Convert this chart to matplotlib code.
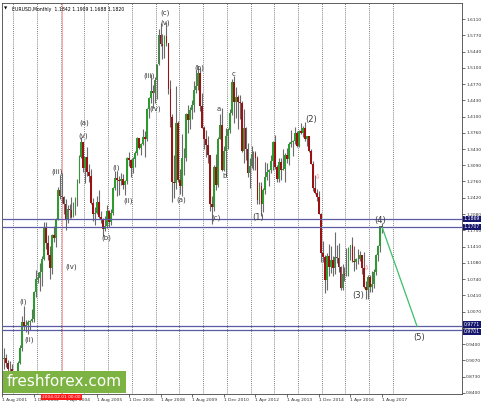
import numpy as np
import matplotlib.pyplot as plt
from matplotlib.patches import Rectangle
from matplotlib.transforms import blended_transform_factory

# EURUSD monthly candles, Sep 2001 .. Aug 2017
opens = [0.9110, 0.9125, 0.9020, 0.8900,
         0.8895, 0.8610, 0.8690, 0.8720, 0.9020, 0.9330, 0.9870, 0.9780, 0.9800, 0.9860, 0.9880, 0.9930,
         1.0490, 1.0740, 1.0780, 1.0900, 1.1160, 1.1800, 1.1500, 1.1240, 1.0980, 1.1650, 1.1590, 1.1990,
         1.2590, 1.2460, 1.2450, 1.2300, 1.1960, 1.2200, 1.2170, 1.2020, 1.2170, 1.2430, 1.2750, 1.3270,
         1.3570, 1.3040, 1.3260, 1.2960, 1.2870, 1.2310, 1.2100, 1.2120, 1.2340, 1.2020, 1.1990, 1.1790,
         1.1840, 1.2160, 1.1920, 1.2110, 1.2620, 1.2830, 1.2790, 1.2770, 1.2810, 1.2680, 1.2760, 1.3250,
         1.3200, 1.3030, 1.3230, 1.3350, 1.3650, 1.3450, 1.3540, 1.3680, 1.3640, 1.4260, 1.4480, 1.4630,
         1.4590, 1.4860, 1.5180, 1.5790, 1.5600, 1.5550, 1.5750, 1.5610, 1.4670, 1.4080, 1.2740, 1.2730,
         1.3970, 1.2800, 1.2670, 1.3250, 1.3250, 1.4150, 1.4030, 1.4240, 1.4340, 1.4640, 1.4720, 1.5000,
         1.4320, 1.3870, 1.3630, 1.3510, 1.3300, 1.2300, 1.2230, 1.3050, 1.2680, 1.3630, 1.3930, 1.3000,
         1.3380, 1.3690, 1.3820, 1.4170, 1.4810, 1.4390, 1.4500, 1.4390, 1.4380, 1.3390, 1.3870, 1.3440,
         1.2940, 1.3080, 1.3330, 1.3340, 1.3240, 1.2370, 1.2660, 1.2300, 1.2580, 1.2860, 1.2960, 1.2990,
         1.3190, 1.3580, 1.3060, 1.2820, 1.3170, 1.2990, 1.3010, 1.3300, 1.3220, 1.3530, 1.3580, 1.3590,
         1.3750, 1.3490, 1.3800, 1.3770, 1.3870, 1.3640, 1.3690, 1.3390, 1.3130, 1.2630, 1.2530, 1.2450,
         1.2100, 1.1290, 1.1200, 1.0730, 1.1220, 1.0990, 1.1150, 1.0980, 1.1210, 1.1180, 1.1000, 1.0570,
         1.0860, 1.0830, 1.0870, 1.1380, 1.1450, 1.1130, 1.1100, 1.1170, 1.1160, 1.1240, 1.0980, 1.0590,
         1.0520, 1.0800, 1.0580, 1.0650, 1.0900, 1.1240, 1.1420, 1.1842]
highs = [0.9330, 0.9210, 0.9070, 0.9060,
         0.9000, 0.8770, 0.8830, 0.9060, 0.9390, 0.9990, 1.0190, 0.9910, 0.9900, 0.9910, 1.0140, 1.0500,
         1.0940, 1.0900, 1.1080, 1.1230, 1.1930, 1.1930, 1.1660, 1.1440, 1.1680, 1.1840, 1.2000, 1.2650,
         1.2900, 1.2930, 1.2470, 1.2390, 1.2280, 1.2290, 1.2440, 1.2330, 1.2440, 1.2810, 1.3300, 1.3670,
         1.3570, 1.3270, 1.3480, 1.3120, 1.3020, 1.2410, 1.2230, 1.2460, 1.2590, 1.2150, 1.2010, 1.2040,
         1.2280, 1.2180, 1.2200, 1.2640, 1.2980, 1.2980, 1.2870, 1.2940, 1.2910, 1.2800, 1.3270, 1.3370,
         1.3220, 1.3260, 1.3390, 1.3680, 1.3650, 1.3550, 1.3850, 1.3810, 1.4280, 1.4500, 1.4970, 1.4750,
         1.4920, 1.5190, 1.5910, 1.6020, 1.5810, 1.5790, 1.6040, 1.5620, 1.4860, 1.4150, 1.3300, 1.4720,
         1.4000, 1.3010, 1.3740, 1.3460, 1.4170, 1.4340, 1.4300, 1.4450, 1.4840, 1.5060, 1.5140, 1.5100,
         1.4580, 1.3910, 1.3820, 1.3690, 1.3310, 1.2470, 1.3090, 1.3330, 1.3670, 1.4160, 1.4280, 1.3500,
         1.3860, 1.3860, 1.4250, 1.4880, 1.4940, 1.4700, 1.4540, 1.4550, 1.4410, 1.4250, 1.3880, 1.3550,
         1.3240, 1.3490, 1.3390, 1.3390, 1.3280, 1.2750, 1.2750, 1.2620, 1.3170, 1.3140, 1.3010, 1.3310,
         1.3590, 1.3710, 1.3100, 1.3240, 1.3240, 1.3420, 1.3350, 1.3450, 1.3570, 1.3830, 1.3620, 1.3890,
         1.3800, 1.3830, 1.3970, 1.3910, 1.3990, 1.3690, 1.3700, 1.3440, 1.3190, 1.2890, 1.2600, 1.2570,
         1.2110, 1.1530, 1.1250, 1.1290, 1.1470, 1.1440, 1.1220, 1.1710, 1.1460, 1.1500, 1.1020, 1.1060,
         1.0990, 1.1380, 1.1400, 1.1460, 1.1620, 1.1430, 1.1190, 1.1370, 1.1330, 1.1250, 1.1300, 1.0710,
         1.0830, 1.0830, 1.0910, 1.0950, 1.1270, 1.1450, 1.1850, 1.1909]
lows = [0.8900, 0.8940, 0.8750, 0.8740,
        0.8580, 0.8600, 0.8660, 0.8700, 0.8990, 0.9270, 0.9700, 0.9650, 0.9610, 0.9700, 0.9870, 0.9860,
        1.0370, 1.0660, 1.0500, 1.0610, 1.1140, 1.1370, 1.1140, 1.0760, 1.0860, 1.1520, 1.1400, 1.1960,
        1.2400, 1.2320, 1.2080, 1.1760, 1.1910, 1.2000, 1.2000, 1.2020, 1.2060, 1.2260, 1.2720, 1.3250,
        1.2950, 1.2730, 1.2880, 1.2740, 1.2300, 1.1950, 1.1870, 1.2090, 1.2010, 1.1910, 1.1640, 1.1740,
        1.1800, 1.1830, 1.1870, 1.2070, 1.2590, 1.2460, 1.2480, 1.2680, 1.2600, 1.2480, 1.2710, 1.3080,
        1.2860, 1.2930, 1.3060, 1.3310, 1.3420, 1.3310, 1.3510, 1.3260, 1.3590, 1.4070, 1.4370, 1.4270,
        1.4370, 1.4460, 1.5160, 1.5550, 1.5290, 1.5300, 1.5550, 1.4560, 1.3880, 1.2330, 1.2420, 1.2600,
        1.2750, 1.2510, 1.2460, 1.2890, 1.3190, 1.3750, 1.3840, 1.4050, 1.4200, 1.4580, 1.4640, 1.4220,
        1.3870, 1.3440, 1.3270, 1.3150, 1.2150, 1.1880, 1.2160, 1.2590, 1.2640, 1.3630, 1.2970, 1.2970,
        1.2870, 1.3430, 1.3750, 1.4130, 1.3970, 1.4070, 1.3840, 1.4050, 1.3360, 1.3150, 1.3210, 1.2860,
        1.2620, 1.3040, 1.3000, 1.3000, 1.2290, 1.2290, 1.2040, 1.2130, 1.2500, 1.2800, 1.2660, 1.2930,
        1.3000, 1.3020, 1.2750, 1.2750, 1.2790, 1.2990, 1.2750, 1.3150, 1.3100, 1.3480, 1.3290, 1.3540,
        1.3470, 1.3480, 1.3730, 1.3670, 1.3590, 1.3500, 1.3370, 1.3130, 1.2570, 1.2500, 1.2360, 1.2100,
        1.1100, 1.1100, 1.0460, 1.0520, 1.0820, 1.0880, 1.0810, 1.0850, 1.1090, 1.0900, 1.0520, 1.0520,
        1.0710, 1.0810, 1.0820, 1.1140, 1.1100, 1.0910, 1.0950, 1.1050, 1.1120, 1.0850, 1.0570, 1.0340,
        1.0340, 1.0490, 1.0490, 1.0570, 1.0840, 1.1120, 1.1310, 1.1688]
closes = [0.9125, 0.9020, 0.8900, 0.8895,
          0.8610, 0.8690, 0.8720, 0.9020, 0.9330, 0.9870, 0.9780, 0.9800, 0.9860, 0.9880, 0.9930, 1.0490,
          1.0740, 1.0780, 1.0900, 1.1160, 1.1800, 1.1500, 1.1240, 1.0980, 1.1650, 1.1590, 1.1990, 1.2590,
          1.2460, 1.2450, 1.2300, 1.1960, 1.2200, 1.2170, 1.2020, 1.2170, 1.2430, 1.2750, 1.3270, 1.3570,
          1.3040, 1.3260, 1.2960, 1.2870, 1.2310, 1.2100, 1.2120, 1.2340, 1.2020, 1.1990, 1.1790, 1.1840,
          1.2160, 1.1920, 1.2110, 1.2620, 1.2830, 1.2790, 1.2770, 1.2810, 1.2680, 1.2760, 1.3250, 1.3200,
          1.3030, 1.3230, 1.3350, 1.3650, 1.3450, 1.3540, 1.3680, 1.3640, 1.4260, 1.4480, 1.4630, 1.4590,
          1.4860, 1.5180, 1.5790, 1.5600, 1.5550, 1.5750, 1.5610, 1.4670, 1.4080, 1.2740, 1.2730, 1.3970,
          1.2800, 1.2670, 1.3250, 1.3250, 1.4150, 1.4030, 1.4240, 1.4340, 1.4640, 1.4720, 1.5000, 1.4320,
          1.3870, 1.3630, 1.3510, 1.3300, 1.2300, 1.2230, 1.3050, 1.2680, 1.3630, 1.3930, 1.3000, 1.3380,
          1.3690, 1.3820, 1.4170, 1.4810, 1.4390, 1.4500, 1.4390, 1.4380, 1.3390, 1.3870, 1.3440, 1.2940,
          1.3080, 1.3330, 1.3340, 1.3240, 1.2370, 1.2660, 1.2300, 1.2580, 1.2860, 1.2960, 1.2990, 1.3190,
          1.3580, 1.3060, 1.2820, 1.3170, 1.2990, 1.3010, 1.3300, 1.3220, 1.3530, 1.3580, 1.3590, 1.3750,
          1.3490, 1.3800, 1.3770, 1.3870, 1.3640, 1.3690, 1.3390, 1.3130, 1.2630, 1.2530, 1.2450, 1.2100,
          1.1290, 1.1200, 1.0730, 1.1220, 1.0990, 1.1150, 1.0980, 1.1210, 1.1180, 1.1000, 1.0570, 1.0860,
          1.0830, 1.0870, 1.1380, 1.1450, 1.1130, 1.1100, 1.1170, 1.1160, 1.1240, 1.0980, 1.0590, 1.0520,
          1.0800, 1.0580, 1.0650, 1.0900, 1.1240, 1.1420, 1.1840, 1.1820]

price_ticks = [1.6110, 1.5770, 1.5440, 1.5100, 1.4770, 1.4430, 1.4100, 1.3760, 1.3430, 1.3090,
               1.2760, 1.2420, 1.2080, 1.1750, 1.1410, 1.1080, 1.0740, 1.0410, 1.0070, 0.9740,
               0.9400, 0.9070, 0.8730, 0.8400]
date_labels = ["1 Aug 2001", "1 Dec 2002", "1 Apr 2004", "1 Aug 2005", "1 Dec 2006",
               "1 Apr 2008", "1 Aug 2009", "1 Dec 2010", "1 Apr 2012", "1 Aug 2013",
               "1 Dec 2014", "1 Apr 2016", "1 Aug 2017"]
date_bars = [-1, 15, 31, 47, 63, 79, 95, 111, 127, 143, 159, 175, 191]

level_prices = [1.1987, 1.1822, 0.9771, 0.9701]
level_labels = ["1.1869", "1.1707", "0.9771", "0.9701"]
level_label_y = [1.1987, 1.1822, 0.9810, 0.9662]

wave_text = ["(c)", "(v)", "(iii)", "(iv)", "(b)", "a", "c", "b", "(a)", "(c)",
             "(a)", "(v)", "(i)", "(ii)", "(b)", "(iii)", "(i)", "(ii)", "(iv)"]
wave_x = [81.3, 81.3, 73.4, 76.2, 98.5, 108.6, 115.7, 111.6, 89.4, 107.1,
          40.3, 39.8, 56.5, 62.6, 51.5, 26.7, 9.5, 12.5, 33.8]
wave_y = [1.6233, 1.6027, 1.4935, 1.4254, 1.5100, 1.4254, 1.4976, 1.2873, 1.2379, 1.2007,
          1.3966, 1.3698, 1.3038, 1.2358, 1.1595, 1.2956, 1.0276, 0.9493, 1.0997]
big_text = ["(1)", "(2)", "(3)", "(4)", "(5)"]
big_x = [128.3, 155.1, 178.9, 190.0, 209.7]
big_y = [1.2028, 1.4028, 1.0420, 1.1946, 0.9554]

proj_x = [191, 208.7]
proj_y = [1.1820, 0.9771]

W, H = 486, 407
fig = plt.figure(figsize=(W / 100, H / 100), dpi=100)
ax = fig.add_axes([2 / W, 1 - 394 / H, 460 / W, 391 / H])

idx = np.arange(len(opens))
o = np.array(opens); h = np.array(highs); l = np.array(lows); c = np.array(closes)
up = c >= o
ax.vlines(idx, l, h, color='#6a6a6a', lw=0.8, zorder=3)
ax.bar(idx[up], (c - o)[up], bottom=o[up], width=0.9, color='#2f9a2f', zorder=4)
ax.bar(idx[~up], (o - c)[~up], bottom=c[~up], width=0.9, color='#9a1212', zorder=4)

# dotted grid every 12 bars
for gx in np.arange(4.5, 200, 12):
    ax.axvline(gx, color='#555555', lw=0.6, ls=(0, (1, 1.5)), zorder=1)
ax.axvline(29, color='#ff9a9a', lw=0.6, zorder=2)

for p in level_prices:
    ax.axhline(p, color='#5a5aa6', lw=0.9, zorder=5)

ax.plot(proj_x, proj_y, color='#3cbf6a', lw=0.9, zorder=6)

for t, x, y in zip(wave_text, wave_x, wave_y):
    ax.text(x, y, t, fontsize=5, color='#3a3a3a', ha='center', va='center', zorder=7)
for t, x, y in zip(big_text, big_x, big_y):
    ax.text(x, y, t, fontsize=6, color='#3a3a3a', ha='center', va='center', zorder=7)
ax.text(158.6, 1.2853, '\u21e9', fontsize=4.5, color='#ff7070', ha='center', va='center', zorder=7)
ax.text(183.4, 1.0977, '\u21e9', fontsize=4.5, color='#ff7070', ha='center', va='center', zorder=7)

ax.set_xlim(-1.12, 231.4)
ax.set_ylim(0.8379, 1.6440)

ax.yaxis.tick_right()
ax.set_yticks(price_ticks)
ax.set_yticklabels(['%.4f' % p for p in price_ticks])
ax.tick_params(axis='y', labelsize=3.2, length=2, width=0.5, pad=1, colors='#333333')
ax.set_xticks(date_bars)
ax.set_xticklabels(date_labels)
for lbl in ax.get_xticklabels():
    lbl.set_ha('left')
ax.tick_params(axis='x', labelsize=3.2, length=2, width=0.5, pad=1, colors='#333333')
for s in ax.spines.values():
    s.set_linewidth(0.6)
    s.set_color('#444444')

tr = blended_transform_factory(ax.transAxes, ax.transData)
for p, t in zip(level_label_y, level_labels):
    ax.text(1.004, p, t, transform=tr, fontsize=3.3, color='white', ha='left', va='center',
            clip_on=False, zorder=20,
            bbox=dict(boxstyle='square,pad=0.15', fc='#16166e', ec='none'))

ax.text(29, -0.003, '2004.02.01 00:00', transform=blended_transform_factory(ax.transData, ax.transAxes),
        fontsize=3.2, color='white', ha='center', va='top', clip_on=False, zorder=20,
        bbox=dict(boxstyle='square,pad=0.25', fc='#ff1a1a', ec='none'))

ax.text(0.004, 0.99, '\u25bc', transform=ax.transAxes, fontsize=3, color='black', va='top')
ax.text(0.022, 0.99, 'EURUSD,Monthly  1.1842 1.1909 1.1688 1.1820', transform=ax.transAxes,
        fontsize=3.3, color='black', va='top')

# logo
fig.patches.append(Rectangle((3 / W, 1 - 393 / H), 123 / W, 22 / H, transform=fig.transFigure,
                             fc='#7cb342', ec='none', zorder=5))
fig.text(64.5 / W, 1 - 382 / H, 'freshforex.com', fontsize=11, color='white',
         ha='center', va='center', zorder=6)

fig.savefig('out.png', dpi=100)
